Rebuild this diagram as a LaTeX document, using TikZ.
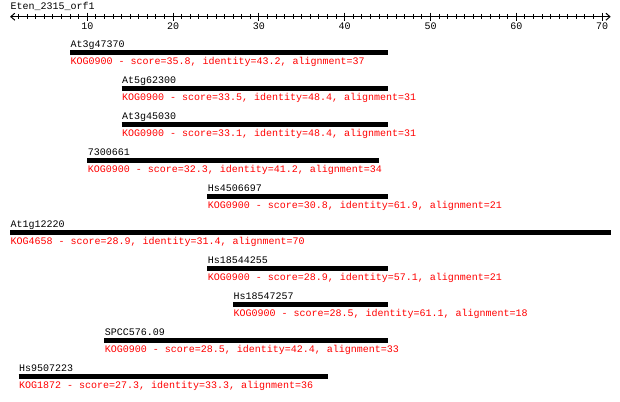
\documentclass[tikz,border=0pt]{standalone}
\usepackage{fontspec}
\newfontfamily\hitfont{Liberation Mono}
\usetikzlibrary{arrows.meta}
\tikzset{
	hitname/.style={anchor=base west, inner sep=0, font=\hitfont\fontsize{10}{12}\selectfont},
	hitkog/.style={hitname, text=red},
	hitbar/.style={line width=4.5pt},
}
\def\hit[#1](#2)(#3:#4)#5#6{%
	\coordinate (#1-a) at (#3,#2);
	\coordinate (#1-b) at (#4,#2);
	\draw[hitbar] (#1-a) -- (#1-b);
	\node[hitname, yshift=4.8pt] (#1-name) at (#1-a) {#5};
	\node[hitkog, yshift=-11.8pt] (#1-kog) at (#1-a) {#6};}

\begin{document}
\begin{tikzpicture}[x=8.58pt, y=-1pt, xshift=1.5pt, line width=1pt]
			%%%%% START %%%%%
			\useasboundingbox (-0.1748, 0) rectangle (72.0863, 401);
			
			\node[hitname] (query) at (1, 9.5) {Eten\_2315\_orf1};
			
			\coordinate (axis-l) at (1, 16.7);
			\coordinate (axis-r) at (71, 16.7);
			\draw[{Straight Barb[length=4pt, width=7pt]}-{Straight Barb[length=4pt, width=7pt]}] (axis-l) -- (axis-r);
			\foreach \p in {2,...,70}
				\draw (\p, 14.2) -- (\p, 19.2);
			\foreach \p in {10,20,...,70} {
				\draw (\p, 12.7) -- (\p, 20.7);
				\node[anchor=base, inner sep=0, font=\hitfont\fontsize{10}{12}\selectfont] (tick-\p) at (\p, 30) {\p};
			}
			
			\hit[h1](52.5)(8:45){At3g47370}{KOG0900 - score=35.8, identity=43.2, alignment=37}
			\hit[h2](88.5)(14:45){At5g62300}{KOG0900 - score=33.5, identity=48.4, alignment=31}
			\hit[h3](124.5)(14:45){At3g45030}{KOG0900 - score=33.1, identity=48.4, alignment=31}
			\hit[h4](160.5)(10:44){7300661}{KOG0900 - score=32.3, identity=41.2, alignment=34}
			\hit[h5](196.5)(24:45){Hs4506697}{KOG0900 - score=30.8, identity=61.9, alignment=21}
			\hit[h6](232.5)(1:71){At1g12220}{KOG4658 - score=28.9, identity=31.4, alignment=70}
			\hit[h7](268.5)(24:45){Hs18544255}{KOG0900 - score=28.9, identity=57.1, alignment=21}
			\hit[h8](304.5)(27:45){Hs18547257}{KOG0900 - score=28.5, identity=61.1, alignment=18}
			\hit[h9](340.5)(12:45){SPCC576.09}{KOG0900 - score=28.5, identity=42.4, alignment=33}
			\hit[h10](376.5)(2:38){Hs9507223}{KOG1872 - score=27.3, identity=33.3, alignment=36}
			
			%%%%% END %%%%%
\end{tikzpicture}
\end{document}
